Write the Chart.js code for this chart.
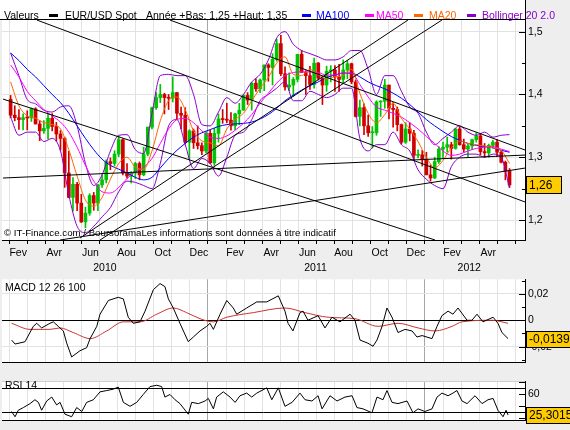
<!DOCTYPE html>
<html lang="fr"><head><meta charset="utf-8"><title>EUR/USD Spot</title>
<script src="https://cdn.jsdelivr.net/npm/chart.js@4.4.1/dist/chart.umd.min.js"></script>
<style>
html,body{margin:0;padding:0;background:#eeeeee;}
body{width:570px;height:430px;position:relative;overflow:hidden;font-family:"Liberation Sans",Arial,sans-serif;font-size:10.5px;color:#000;}
.abs{position:absolute;white-space:nowrap;line-height:12px;}
#strip{position:absolute;left:0;top:0;width:525px;height:19px;background:#fff;border-right:1px solid #000;border-bottom:1px solid #000;}
.sw{position:absolute;top:14px;width:9px;height:3px;}
canvas{position:absolute;left:0;}
</style></head><body>
<div id="strip"></div>
<canvas id="main" width="570" height="275" style="top:0px"></canvas>
<canvas id="macd" width="570" height="102" style="top:270px"></canvas>
<canvas id="rsi" width="570" height="58" style="top:372px"></canvas>
<div class="abs" style="left:4px;top:9px">Valeurs</div>
<div class="sw" style="left:49px;background:#000"></div>
<div class="abs" style="left:65px;top:9px">EUR/USD Spot</div>
<div class="abs" style="left:146px;top:9px">Année +Bas: 1,25 +Haut: 1,35</div>
<div class="sw" style="left:302px;background:#0000ff"></div>
<div class="abs" style="left:316px;top:9px;color:#0000ff">MA100</div>
<div class="sw" style="left:365px;background:#ff00ff"></div>
<div class="abs" style="left:376px;top:9px;color:#ff00ff">MA50</div>
<div class="sw" style="left:414px;background:#ff6600"></div>
<div class="abs" style="left:429px;top:9px;color:#ff6600">MA20</div>
<div class="sw" style="left:467px;background:#8800cc"></div>
<div class="abs" style="left:482px;top:9px;color:#8800cc">Bollinger 20 2.0</div>
<div class="abs" style="left:4px;top:227px;font-size:9.7px">© IT-Finance.com / BoursoramaLes informations sont données à titre indicatif</div>
<div class="abs" style="left:5px;top:281px">MACD 12 26 100</div>
<div class="abs" style="left:5px;top:379px">RSI 14</div>
<script>
// ================= DATA =================
// Weekly candles EUR/USD, first week centred on 3 Feb 2010 (day 33 of 2010)
const firstWeekDay = 33;
const daysPerMonth = 30.44;
const candleOpen = [
 1.3925,1.3670,1.3630,1.3600,1.3630,1.3625,1.3770,1.3530,1.3420,1.3460,
 1.3620,1.3490,1.3370,1.3300,1.2750,1.2360,1.2570,1.2270,1.1970,1.2110,
 1.2390,1.2270,1.2560,1.2640,1.2930,1.2900,1.3050,1.3280,1.2750,1.2700,
 1.2750,1.2900,1.2720,1.3050,1.3480,1.3790,1.3950,1.4000,1.3950,1.3940,
 1.4030,1.3700,1.3670,1.3240,1.3420,1.3230,1.3185,1.3100,1.3380,1.2910,
 1.3380,1.3610,1.3600,1.3590,1.3500,1.3690,1.3750,1.3985,1.3910,1.4180,
 1.4090,1.4230,1.4470,1.4430,1.4560,1.4810,1.4330,1.4120,1.4150,1.4240,
 1.4640,1.4350,1.4300,1.4160,1.4500,1.4260,1.4150,1.4370,1.4390,1.4280,
 1.4240,1.4390,1.4490,1.4200,1.3650,1.3790,1.3500,1.3390,1.3390,1.3880,
 1.3890,1.4150,1.3780,1.3760,1.3520,1.3240,1.3450,1.3380,1.3030,1.3040,
 1.2960,1.2720,1.2670,1.2930,1.3130,1.3160,1.3200,1.3140,1.3450,1.3200,
 1.3130,1.3180,1.3280,1.3340,1.3090,1.3070,1.3190,1.3240,1.3080,1.2920,
 1.2780];
const candleHigh = [
 1.3985,1.3820,1.3760,1.3690,1.3740,1.3785,1.3790,1.3580,1.3585,1.3695,
 1.3695,1.3555,1.3425,1.3320,1.3095,1.2675,1.2600,1.2410,1.2205,1.2420,
 1.2440,1.2570,1.2720,1.2960,1.2990,1.3105,1.3335,1.3295,1.2900,1.2770,
 1.2920,1.2925,1.3160,1.3480,1.3800,1.4030,1.4160,1.4020,1.4000,1.4280,
 1.4030,1.3800,1.3790,1.3440,1.3450,1.3500,1.3230,1.3410,1.3430,1.3460,
 1.3690,1.3760,1.3860,1.3710,1.3700,1.3860,1.4000,1.4030,1.4190,1.4250,
 1.4250,1.4470,1.4490,1.4650,1.4880,1.4940,1.4440,1.4345,1.4270,1.4640,
 1.4700,1.4380,1.4450,1.4580,1.4510,1.4280,1.4450,1.4460,1.4460,1.4480,
 1.4550,1.4540,1.4500,1.4230,1.3910,1.3850,1.3670,1.3490,1.3900,1.3900,
 1.4240,1.4150,1.3870,1.3800,1.3530,1.3550,1.3550,1.3430,1.3120,1.3110,
 1.3080,1.2880,1.3000,1.3170,1.3240,1.3320,1.3240,1.3460,1.3480,1.3290,
 1.3210,1.3290,1.3390,1.3380,1.3220,1.3210,1.3270,1.3280,1.3100,1.2940,
 1.2820];
const candleLow = [
 1.3630,1.3580,1.3445,1.3435,1.3435,1.3570,1.3530,1.3265,1.3380,1.3290,
 1.3420,1.3255,1.3115,1.2520,1.2355,1.2145,1.2150,1.1960,1.1875,1.2075,
 1.2155,1.2150,1.2520,1.2590,1.2800,1.2860,1.3010,1.2720,1.2665,1.2590,
 1.2660,1.2640,1.2705,1.3020,1.3450,1.3760,1.3870,1.3690,1.3760,1.3880,
 1.3600,1.3450,1.3210,1.2970,1.3140,1.3130,1.3040,1.3070,1.2900,1.2870,
 1.3240,1.3540,1.3550,1.3430,1.3440,1.3520,1.3750,1.3840,1.3750,1.4050,
 1.4030,1.4060,1.4210,1.4150,1.4530,1.4300,1.4070,1.4060,1.3970,1.4200,
 1.4360,1.4000,1.4080,1.4100,1.4230,1.3840,1.4050,1.4200,1.4050,1.4050,
 1.4180,1.4250,1.4170,1.3640,1.3500,1.3360,1.3330,1.3150,1.3350,1.3650,
 1.3780,1.3610,1.3480,1.3420,1.3210,1.3220,1.3260,1.2950,1.2990,1.2860,
 1.2720,1.2620,1.2660,1.2900,1.2980,1.3080,1.2970,1.3130,1.3190,1.3080,
 1.3000,1.3120,1.3240,1.3040,1.3000,1.3000,1.3150,1.3010,1.2910,1.2640,
 1.2520];
const candleClose = [
 1.3670,1.3630,1.3600,1.3630,1.3625,1.3770,1.3530,1.3420,1.3460,1.3620,
 1.3490,1.3370,1.3300,1.2750,1.2360,1.2570,1.2270,1.1970,1.2110,1.2390,
 1.2270,1.2560,1.2640,1.2930,1.2900,1.3050,1.3280,1.2750,1.2700,1.2750,
 1.2900,1.2720,1.3050,1.3480,1.3790,1.3950,1.4000,1.3950,1.3940,1.4030,
 1.3700,1.3670,1.3240,1.3420,1.3230,1.3185,1.3100,1.3380,1.2910,1.3380,
 1.3610,1.3600,1.3590,1.3500,1.3690,1.3750,1.3985,1.3910,1.4180,1.4090,
 1.4230,1.4470,1.4430,1.4560,1.4810,1.4330,1.4120,1.4150,1.4240,1.4640,
 1.4350,1.4300,1.4160,1.4500,1.4260,1.4150,1.4370,1.4390,1.4280,1.4240,
 1.4390,1.4490,1.4200,1.3650,1.3790,1.3500,1.3390,1.3390,1.3880,1.3890,
 1.4150,1.3780,1.3760,1.3520,1.3240,1.3450,1.3380,1.3030,1.3040,1.2960,
 1.2720,1.2670,1.2930,1.3130,1.3160,1.3200,1.3140,1.3450,1.3200,1.3130,
 1.3180,1.3280,1.3340,1.3090,1.3070,1.3190,1.3240,1.3080,1.2920,1.2780,
 1.2560];

// Indicators, one value every second week (same dates as candles 0,2,4,...,120)
const ma100 = [1.466,1.454,1.440,1.428,1.414,1.400,1.387,1.370,1.350,1.330,
 1.312,1.297,1.287,1.281,1.275,1.268,1.264,1.268,1.283,1.298,
 1.311,1.322,1.332,1.339,1.344,1.349,1.352,1.353,1.354,1.356,
 1.361,1.368,1.378,1.390,1.399,1.407,1.414,1.420,1.427,1.431,
 1.434,1.434,1.428,1.420,1.414,1.409,1.402,1.394,1.384,1.372,
 1.360,1.350,1.341,1.333,1.327,1.322,1.319,1.317,1.315,1.311,1.308];
const ma50 = [1.447,1.428,1.405,1.390,1.376,1.366,1.356,1.340,1.316,1.287,
 1.262,1.245,1.243,1.252,1.266,1.277,1.284,1.298,1.322,1.345,
 1.360,1.362,1.355,1.342,1.332,1.330,1.334,1.343,1.354,1.368,
 1.386,1.402,1.418,1.430,1.435,1.436,1.436,1.435,1.431,1.431,
 1.434,1.434,1.416,1.396,1.380,1.375,1.370,1.364,1.355,1.345,
 1.333,1.322,1.310,1.303,1.305,1.310,1.314,1.316,1.317,1.313,1.309];
const ma20 = [1.420,1.382,1.366,1.362,1.355,1.352,1.345,1.312,1.270,1.232,
 1.222,1.236,1.265,1.290,1.300,1.284,1.281,1.310,1.358,1.390,
 1.396,1.376,1.342,1.326,1.323,1.318,1.345,1.360,1.370,1.390,
 1.410,1.427,1.450,1.460,1.432,1.430,1.440,1.431,1.425,1.428,
 1.430,1.440,1.402,1.370,1.355,1.368,1.386,1.362,1.345,1.325,
 1.300,1.283,1.295,1.315,1.326,1.322,1.320,1.318,1.315,1.311,1.290];
const bollUpper = [1.466,1.430,1.392,1.385,1.375,1.372,1.380,1.382,1.350,1.290,
 1.255,1.272,1.310,1.335,1.336,1.312,1.306,1.370,1.430,1.432,
 1.430,1.430,1.400,1.352,1.350,1.372,1.395,1.386,1.400,1.420,
 1.432,1.455,1.490,1.500,1.480,1.470,1.465,1.460,1.455,1.455,
 1.460,1.470,1.470,1.440,1.400,1.430,1.430,1.405,1.380,1.370,
 1.340,1.320,1.330,1.340,1.350,1.340,1.335,1.340,1.332,1.335,1.336];
const bollLower = [1.364,1.335,1.340,1.340,1.325,1.330,1.310,1.240,1.190,1.180,
 1.190,1.205,1.220,1.245,1.262,1.260,1.255,1.250,1.290,1.350,
 1.360,1.320,1.282,1.298,1.290,1.270,1.300,1.335,1.340,1.360,
 1.390,1.400,1.410,1.420,1.390,1.390,1.405,1.400,1.395,1.400,
 1.410,1.410,1.330,1.310,1.320,1.320,1.340,1.320,1.310,1.280,
 1.265,1.255,1.250,1.285,1.300,1.305,1.305,1.300,1.305,1.300,1.251];

// MACD (months since 1 Jan 2010)
const macdMonths = [1.14,1.33,1.88,2.34,2.53,2.80,3.26,3.45,3.72,4.00,
 4.19,4.46,4.92,5.29,5.48,5.85,6.03,6.49,7.04,7.32,
 7.59,7.87,8.24,8.52,8.98,9.35,9.62,9.81,10.08,10.45,
 10.91,11.19,11.56,11.93,12.11,12.30,12.67,13.04,13.40,13.59,
 14.14,14.70,15.25,15.89,16.26,16.43,16.70,17.09,17.26,17.53,
 18.09,18.47,18.86,19.30,19.86,20.13,20.41,20.85,21.13,21.35,
 21.63,21.90,22.18,22.51,22.90,23.29,23.56,23.84,24.39,24.67,
 24.94,25.28,25.55,25.83,26.33,26.60,26.88,27.21,27.77,28.04,
 28.26,28.60];
const macdValues = [-0.0150,-0.0180,-0.0163,-0.0046,-0.0023,-0.0058,-0.0023,-0.0012,-0.0046,-0.0081,
 -0.0174,-0.0278,-0.0231,-0.0208,-0.0139,-0.0046,0.0046,0.0150,0.0174,0.0162,
 0.0023,-0.0023,-0.0012,0.0069,0.0232,0.0278,0.0255,0.0162,0.0093,-0.0023,
 -0.0162,-0.0127,-0.0081,-0.0046,-0.0023,-0.0069,0.0046,0.0150,0.0093,0.0046,
 0.0093,0.0139,0.0139,0.0185,0.0069,-0.0023,-0.0081,0.0058,0.0069,0.0000,
 0.0035,-0.0058,0.0023,-0.0012,0.0046,0.0000,-0.0150,-0.0174,-0.0197,-0.0150,
 -0.0046,0.0093,0.0023,-0.0093,-0.0069,-0.0081,-0.0127,-0.0116,-0.0139,-0.0046,
 0.0035,0.0069,0.0046,0.0093,0.0000,0.0000,0.0046,-0.0012,0.0023,-0.0023,
 -0.0093,-0.0139];
const signalMonths = [1.14,2.16,3.26,3.82,4.55,5.48,6.40,7.32,8.24,9.17,
 10.08,10.82,11.56,12.30,13.04,14.51,16.26,17.37,18.64,20.13,
 21.41,22.51,23.62,24.56,25.50,26.05,27.71,28.60];
const signalValues = [-0.0023,-0.0069,-0.0069,-0.0058,-0.0093,-0.0139,-0.0081,-0.0012,-0.0012,0.0046,
 0.0093,0.0058,0.0012,-0.0012,0.0023,0.0058,0.0093,0.0058,0.0023,0.0012,
 -0.0046,-0.0023,-0.0058,-0.0081,-0.0046,-0.0012,0.0000,-0.0023];

// RSI 14
const rsiMonths = [1.14,1.33,1.51,1.79,2.16,2.43,2.62,2.80,3.08,3.36,
 3.63,3.82,4.09,4.46,4.74,5.02,5.29,5.66,6.03,6.40,
 6.76,7.04,7.32,7.69,8.06,8.42,8.79,9.17,9.44,9.62,
 9.90,10.18,10.45,10.91,11.10,11.47,11.84,12.02,12.30,12.48,
 12.85,13.22,13.50,13.77,14.14,14.42,14.70,15.25,15.53,15.89,
 16.26,16.65,17.09,17.37,17.75,18.09,18.31,18.75,19.14,19.58,
 19.97,20.24,20.58,21.07,21.35,21.68,21.90,22.18,22.51,23.01,
 23.34,23.62,24.00,24.39,24.67,24.94,25.28,25.55,25.77,26.05,
 26.33,26.77,27.16,27.49,27.77,28.04,28.32,28.49,28.60];
const rsiValues = [31.3,22.5,33.4,37.9,44.5,51.0,46.6,33.4,48.9,55.5,
 42.3,46.6,26.8,22.5,37.9,31.3,46.6,51.0,64.2,66.4,
 68.7,72.2,46.6,40.0,46.6,59.8,73.0,75.3,73.0,55.5,
 59.8,51.0,44.5,26.8,46.6,44.5,48.9,53.2,35.7,55.5,
 64.2,55.5,46.6,57.7,62.1,55.5,62.1,70.9,51.0,70.9,
 40.0,46.6,62.1,51.0,48.9,57.7,35.7,57.7,48.9,55.5,
 57.7,37.9,35.7,29.1,55.5,51.0,66.4,46.6,44.5,48.9,
 29.1,35.7,31.3,35.7,55.5,62.1,57.7,62.1,66.4,48.9,
 44.5,57.7,44.5,51.0,53.2,33.4,22.5,33.4,25.3015];

// Trend lines drawn on the price chart: [month start, price start, month end, price end]
const trendLines = [
 [9.90, 1.5185, 29.54, 1.3115],
 [2.54, 1.5185, 29.54, 1.2287],
 [0.66, 1.3927, 24.56, 1.1682],
 [0.66, 1.2669, 29.54, 1.3035],
 [3.82, 1.1682, 29.54, 1.2828],
 [4.92, 1.1713, 23.06, 1.5185],
 [6.03, 1.1682, 24.94, 1.5185]
];

// Axis labels
const monthLabels = ['Fev','Avr','Jun','Aou','Oct','Dec','Fev','Avr','Jun','Aou','Oct','Dec','Fev','Avr'];
const monthLabelPos = [1.5,3.5,5.5,7.5,9.5,11.5,13.5,15.5,17.5,19.5,21.5,23.5,25.5,27.5];
const yearLabels = ['2010','2011','2012'];
const yearLabelPos = [6.3,17.95,26.45];
const yearBoundaries = [12,24];
const priceTicks = [1.2,1.25,1.3,1.35,1.4,1.45,1.5];
const priceMajor = [1.2,1.3,1.4,1.5];
const macdTicks = [-0.03,-0.02,-0.01,0,0.01,0.02,0.03];
const macdLabelled = [-0.02,0,0.02];
const rsiTicks = [20,30,40,60,70,80];
const rsiLabelled = [20,60];
const rsiBands = [30,70];

// ================= CHARTS =================
const FONT = '"Liberation Sans", Arial, sans-serif';
Chart.defaults.font.family = FONT;
Chart.defaults.font.size = 10.5;
Chart.defaults.color = '#000';

const X_MIN = 0.608, X_MAX = 29.535;
const GRID = '#e2e2e2', YEARGRID = '#a6a6a6', NONE = 'rgba(0,0,0,0)';
const GREEN = '#00c400', RED = '#d00000';

const monthBoundaries = [];
for (let m = 1; m <= 29; m++) monthBoundaries.push(m);
const near = (a, b) => Math.abs(a - b) < 1e-6;
const has = (arr, v) => arr.some(a => near(a, v));

function xAxis(withLabels, height) {
  const vals = monthBoundaries.slice();
  if (withLabels) vals.push(...monthLabelPos, ...yearLabelPos);
  vals.sort((a, b) => a - b);
  return {
    type: 'linear', min: X_MIN, max: X_MAX, bounds: 'data', offset: false,
    afterBuildTicks: ax => { ax.ticks = vals.map(v => ({value: v})); },
    afterFit: ax => { ax.height = height; },
    grid: {
      offset: false,
      color: c => { const v = c.tick ? c.tick.value : 0; if (!Number.isInteger(v)) return NONE; return has(yearBoundaries, v) ? YEARGRID : GRID; },
      drawTicks: withLabels, tickLength: 4,
      tickColor: c => (c.tick && Number.isInteger(c.tick.value)) ? '#000' : NONE
    },
    border: {display: true, color: '#000', width: 1},
    ticks: {
      display: withLabels, autoSkip: false, maxRotation: 0, minRotation: 0, padding: 2,
      font: {size: 10.5, lineHeight: 1.4},
      callback: v => {
        const i = monthLabelPos.findIndex(p => near(p, v));
        if (i >= 0) return monthLabels[i];
        const j = yearLabelPos.findIndex(p => near(p, v));
        if (j >= 0) return ['', yearLabels[j]];
        return '';
      }
    }
  };
}

function yAxis(min, max, ticks, gridColor, label) {
  return {
    type: 'linear', position: 'right', min, max, bounds: 'data',
    afterBuildTicks: ax => { ax.ticks = ticks.map(v => ({value: v})); },
    afterFit: ax => { ax.width = 45; },
    grid: { drawTicks: false, color: c => gridColor(c.tick ? c.tick.value : NaN) },
    border: {display: true, color: '#000', width: 1},
    ticks: { padding: 3, autoSkip: false, font: {size: 10.5}, callback: v => label(v) }
  };
}

const areaBg = { id: 'areaBg', beforeDraw(c) {
  const a = c.chartArea, ctx = c.ctx;
  ctx.save(); ctx.fillStyle = '#fff'; ctx.fillRect(a.left, a.top, a.right - a.left, a.bottom - a.top); ctx.restore();
}};
function innerTicks(isMajor) { return { id: 'innerTicks', afterDraw(c) {
  const s = c.scales.y, ctx = c.ctx, r = c.chartArea.right;
  ctx.save(); ctx.strokeStyle = '#000'; ctx.lineWidth = 1;
  s.ticks.forEach(t => {
    const y = Math.round(s.getPixelForValue(t.value)) + 0.5;
    const len = isMajor(t.value) ? 6 : 3;
    ctx.beginPath(); ctx.moveTo(r - len, y); ctx.lineTo(r, y); ctx.stroke();
  });
  ctx.restore();
}};}
function valueBox(value, text, h) { return { id: 'valueBox', afterDraw(c) {
  const s = c.scales.y, ctx = c.ctx;
  ctx.save(); ctx.font = '12px ' + FONT;
  const w = Math.max(35, Math.ceil(ctx.measureText(text).width) + 5);
  const x = Math.round(c.chartArea.right) + 1.5;
  const y = Math.round(s.getPixelForValue(value) - h / 2) + 0.5;
  ctx.fillStyle = '#ffcc00'; ctx.fillRect(x, y, w, h);
  ctx.strokeStyle = '#000'; ctx.lineWidth = 1; ctx.strokeRect(x, y, w, h);
  ctx.fillStyle = '#000'; ctx.textAlign = 'left'; ctx.textBaseline = 'middle';
  ctx.fillText(text, x + 2.5, y + h / 2 + 0.5);
  ctx.restore();
}};}
const topBorder = { id: 'topBorder', afterDraw(c) {
  const a = c.chartArea, ctx = c.ctx;
  ctx.save(); ctx.strokeStyle = '#cfcfcf'; ctx.lineWidth = 1;
  ctx.beginPath(); ctx.moveTo(a.left, Math.round(a.top) + 0.5); ctx.lineTo(a.right, Math.round(a.top) + 0.5); ctx.stroke(); ctx.restore();
}};

const weekX = candleClose.map((_, i) => (firstWeekDay + 7 * i) / daysPerMonth);
const indX = ma100.map((_, j) => weekX[2 * j]);
const pts = (xs, ys) => ys.map((y, i) => ({x: xs[i], y}));
const candleColor = c => candleClose[c.dataIndex] >= candleOpen[c.dataIndex] ? GREEN : RED;
const lineDs = (label, data, color, order, smooth) => ({
  type: 'line', label, data, borderColor: color, borderWidth: 1, pointRadius: 0,
  fill: false, order, cubicInterpolationMode: smooth ? 'monotone' : 'default', tension: 0
});

const mainDatasets = [
  { type: 'bar', label: 'mèches', data: candleHigh.map((h, i) => ({x: weekX[i], y: [candleLow[i], h]})),
    backgroundColor: candleColor, borderWidth: 0, barThickness: 1, grouped: false, order: 20 },
  { type: 'bar', label: 'EUR/USD Spot', data: candleClose.map((cl, i) => ({x: weekX[i], y: [candleOpen[i], cl]})),
    backgroundColor: candleColor, borderWidth: 0, barThickness: 3, grouped: false, minBarLength: 1, order: 19 },
  lineDs('Bollinger haut', pts(indX, bollUpper), '#8800cc', 8, true),
  lineDs('Bollinger bas', pts(indX, bollLower), '#8800cc', 8, true),
  lineDs('MA100', pts(indX, ma100), '#0000ff', 7, true),
  lineDs('MA50', pts(indX, ma50), '#ff00ff', 6, true),
  lineDs('MA20', pts(indX, ma20), '#ff6600', 5, true)
];
trendLines.forEach((t, k) => mainDatasets.push(
  lineDs('tendance ' + (k + 1), [{x: t[0], y: t[1]}, {x: t[2], y: t[3]}], '#000', 1, false)));

const common = {
  responsive: false, animation: false, devicePixelRatio: 1,
  plugins: { legend: {display: false}, tooltip: {enabled: false} },
  events: []
};

new Chart(document.getElementById('main'), {
  type: 'line',
  data: { datasets: mainDatasets },
  options: Object.assign({}, common, {
    layout: {padding: {top: 20, left: 2, right: 0, bottom: 0}},
    scales: {
      x: xAxis(true, 35),
      y: yAxis(1.1682, 1.5186, priceTicks,
        v => has(priceMajor, v) ? GRID : NONE,
        v => has(priceMajor, v) ? v.toFixed(1).replace('.', ',') : '')
    }
  }),
  plugins: [areaBg, innerTicks(v => has(priceMajor, v)),
    valueBox(candleClose[candleClose.length - 1], candleClose[candleClose.length - 1].toFixed(2).replace('.', ','), 17)]
});

const lastMacd = macdValues[macdValues.length - 1];
new Chart(document.getElementById('macd'), {
  type: 'line',
  data: { datasets: [
    lineDs('Signal', pts(signalMonths, signalValues), '#cc3333', 2, true),
    lineDs('MACD 12 26 100', pts(macdMonths, macdValues), '#000', 1, false)
  ]},
  options: Object.assign({}, common, {
    layout: {padding: {top: 7, left: 2, right: 0, bottom: 0}},
    scales: {
      x: xAxis(false, 4),
      y: yAxis(-0.03215, 0.03104, macdTicks,
        v => near(v, 0) ? '#000' : (has([-0.02, 0.02], v) ? GRID : NONE),
        v => has(macdLabelled, v) ? (near(v, 0) ? '0' : v.toFixed(2).replace('.', ',')) : '')
    }
  }),
  plugins: [areaBg, innerTicks(v => has(macdLabelled, v)),
    valueBox(lastMacd, lastMacd.toFixed(4).replace('.', ','), 16)]
});

const lastRsi = rsiValues[rsiValues.length - 1];
new Chart(document.getElementById('rsi'), {
  type: 'line',
  data: { datasets: [ lineDs('RSI 14', pts(rsiMonths, rsiValues), '#000', 1, false) ] },
  options: Object.assign({}, common, {
    layout: {padding: {top: 3, left: 2, right: 0, bottom: 0}},
    scales: {
      x: xAxis(false, 5),
      y: yAxis(15.87, 81.9, rsiTicks,
        v => has(rsiBands, v) ? '#000' : NONE,
        v => has(rsiLabelled, v) ? String(v) : '')
    }
  }),
  plugins: [areaBg, topBorder, innerTicks(v => !has(rsiBands, v)),
    valueBox(lastRsi, lastRsi.toFixed(4).replace('.', ','), 16)]
});
</script>
</body></html>
